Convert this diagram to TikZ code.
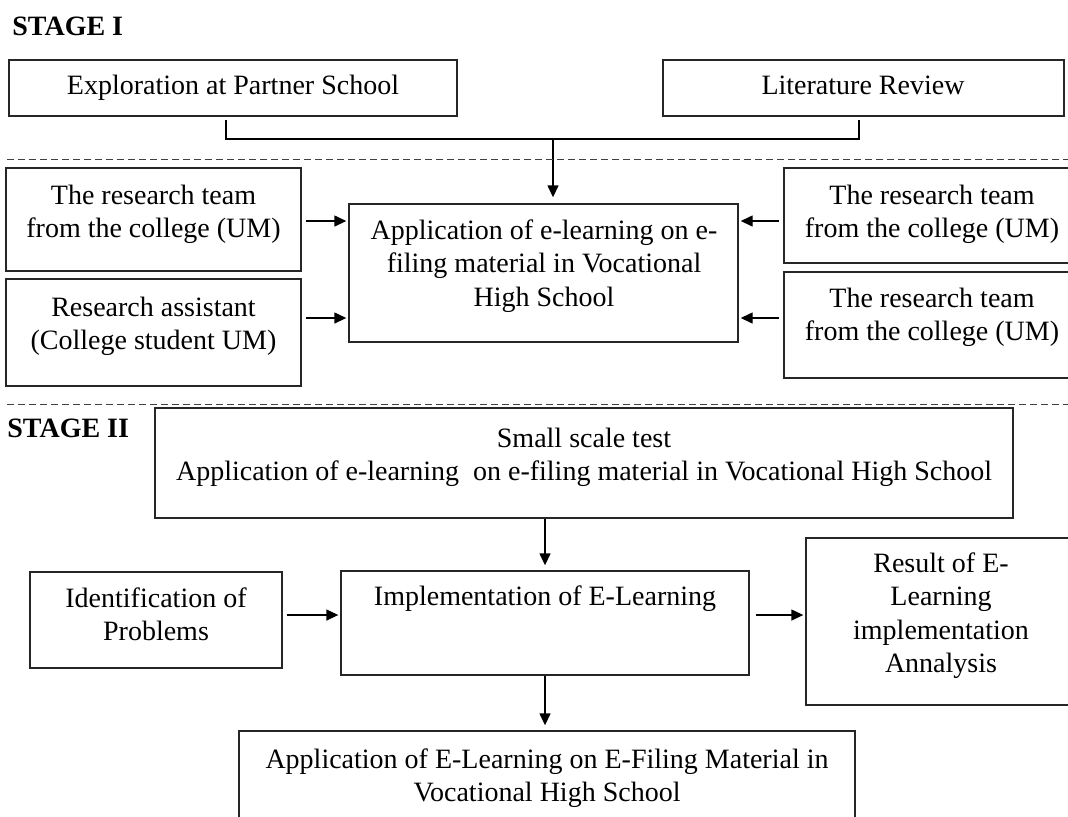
\documentclass[tikz,border=0pt]{standalone}
\usepackage{fontspec}
\setmainfont{Liberation Serif}
\usetikzlibrary{arrows.meta,fit}
\tikzset{
  box/.style={draw=black!85, line width=0.7pt, inner sep=0pt, rectangle},
  txt/.style={align=center, inner sep=0pt, anchor=base, font=\fontsize{14}{16.75}\selectfont},
  stagelbl/.style={inner sep=0pt, anchor=base west, font=\fontsize{14}{17}\selectfont\bfseries},
  conn/.style={line width=0.7pt, draw=black},
  arr/.style={line width=0.7pt, draw=black, -{Triangle[length=6pt,width=5.5pt]}},
  sep/.style={line width=0.5pt, draw=black!75, dash pattern=on 3.5pt off 2pt}
}
\begin{document}
\begin{tikzpicture}[x=0.5pt,y=-0.5pt]
\useasboundingbox (0,0) rectangle (1068,816);

% ---------- STAGE I ----------
\node[stagelbl] (s1) at (12,35) {STAGE I};

\node[box, fit={(9,60)(457,116)}] (expl) {};
\node[txt] (explt) at (233,94) {Exploration at Partner School};
\node[box, fit={(663,60)(1064,116)}] (lit) {};
\node[txt] (litt) at (863,94) {Literature Review};

\coordinate (jl) at (226,139);
\coordinate (jr) at (859,139);
\coordinate (jm) at (553,139);

\node[box, fit={(349,204)(738,342)}] (app) {};
\node[txt] (appt) at (544,306) {Application of e-learning on e-\\filing material in Vocational\\High School};

\draw[conn] ([yshift=-1.5pt]expl.south -| jl) -- (jl) -- (jr) -- ([yshift=-1.5pt]lit.south -| jr);
\draw[arr] (jm) -- ([yshift=3pt]app.north -| jm);

\draw[sep] (7,159) -- (1068,159);

\node[box, fit={(6,168)(301,271)}] (l1) {};
\node[txt] (l1t) at (153.5,237.5) {The research team\\from the college (UM)};
\node[box, fit={(6,279)(301,386)}] (l2) {};
\node[txt] (l2t) at (153.5,349.5) {Research assistant\\(College student UM)};

\node[box, fit={(784,168)(1080,263)}] (r1) {};
\node[txt] (r1t) at (932,237.5) {The research team\\from the college (UM)};
\node[box, fit={(784,272)(1080,378)}] (r2) {};
\node[txt] (r2t) at (932,340.5) {The research team\\from the college (UM)};

\coordinate (ya) at (0,221);
\coordinate (yb) at (0,318);
\draw[arr] ([xshift=2pt]l1.east |- ya) -- ([xshift=-1pt]app.west |- ya);
\draw[arr] ([xshift=2pt]l1.east |- yb) -- ([xshift=-1pt]app.west |- yb);
\draw[arr] ([xshift=-2pt]r1.west |- ya) -- ([xshift=1pt]app.east |- ya);
\draw[arr] ([xshift=-2pt]r1.west |- yb) -- ([xshift=1pt]app.east |- yb);

\draw[sep] (7,404) -- (1068,404);

% ---------- STAGE II ----------
\node[stagelbl] (s2) at (7,437) {STAGE II};

\node[box, fit={(155,408)(1013,518)}] (small) {};
\node[txt] (smallt) at (584,480.5) {Small scale test\\Application of e-learning\ \ on e-filing material in Vocational High School};

\node[box, fit={(30,572)(282,668)}] (ident) {};
\node[txt] (identt) at (156,640.5) {Identification of\\Problems};

\node[box, fit={(341,571)(749,675)}] (impl) {};
\node[txt] (implt) at (545,605) {Implementation of E-Learning};

\node[box, fit={(806,538)(1076,705)}] (res) {};
\node[txt] (rest) at (941,672.5) {Result of E-\\Learning\\implementation\\Annalysis};

\node[box, fit={(239,731)(855,830)}] (final) {};
\node[txt] (finalt) at (547,801.5) {Application of E-Learning on E-Filing Material in\\Vocational High School};

\coordinate (xa) at (545,0);
\coordinate (yc) at (0,615);
\draw[arr] (small.south -| xa) -- ([yshift=2.5pt]impl.north -| xa);
\draw[arr] ([xshift=2pt]ident.east |- yc) -- ([xshift=-1pt]impl.west |- yc);
\draw[arr] ([xshift=3pt]impl.east |- yc) -- ([xshift=-1pt]res.west |- yc);
\draw[arr] (impl.south -| xa) -- ([yshift=2.5pt]final.north -| xa);
\end{tikzpicture}
\end{document}
